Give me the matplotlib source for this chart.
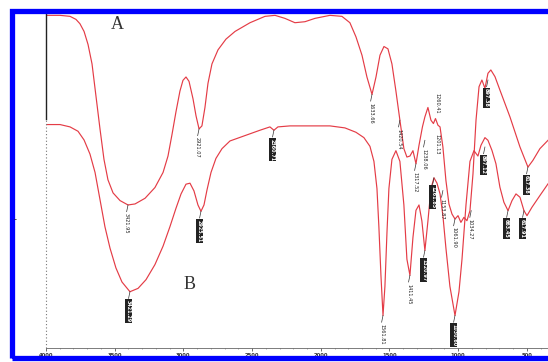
import numpy as np
import matplotlib.pyplot as plt
from matplotlib.patches import Rectangle

# FTIR spectra, wavenumber (cm-1) and transmittance (a.u.)
wn_a = [4000, 3898, 3825, 3782, 3753, 3723, 3694, 3665, 3636, 3607, 3578, 3549,
        3512, 3461, 3403, 3352, 3279, 3207, 3148, 3112, 3083, 3054, 3025, 3003,
        2981, 2959, 2930, 2908, 2886, 2865, 2843, 2821, 2792, 2748, 2690, 2624,
        2515, 2406, 2333, 2261, 2188, 2115, 2042, 1933, 1846, 1788, 1744, 1700,
        1664, 1627, 1598, 1569, 1540, 1511, 1482, 1453, 1424, 1395, 1373, 1351,
        1329, 1307, 1285, 1260, 1242, 1220, 1198, 1180, 1165, 1147, 1132, 1111,
        1089, 1067, 1045, 1023, 1001, 980, 958, 936, 914, 892, 870, 848, 827,
        805, 783, 762, 732, 696, 623, 550, 492, 456, 405, 346]
t_a = [99.3, 99.3, 99.0, 98.1, 96.8, 94.5, 90.6, 84.8, 75.1, 65.4, 56.3, 50.2,
       46.3, 44.0, 42.7, 43.0, 44.7, 47.9, 52.4, 57.3, 63.7, 70.5, 76.7, 79.9,
       80.9, 79.6, 74.4, 69.3, 65.4, 66.3, 71.8, 79.0, 84.8, 89.0, 92.2, 94.5,
       97.1, 99.0, 99.3, 98.4, 97.1, 97.4, 98.4, 99.3, 99.0, 97.1, 92.9, 87.4,
       80.9, 75.7, 80.9, 87.4, 90.0, 89.3, 84.8, 76.7, 68.0, 59.5, 57.0, 57.3,
       58.9, 55.0, 60.5, 66.0, 69.0, 71.8, 68.0, 67.0, 68.5, 66.5, 66.0, 60.0,
       50.0, 43.0, 40.0, 38.5, 39.5, 37.5, 39.0, 38.0, 41.0, 52.0, 68.0, 78.0, 80.0,
       77.5, 82.0, 83.0, 81.0, 77.0, 69.0, 60.0, 54.0, 56.0, 59.5, 62.0]

wn_b = [4000, 3898, 3825, 3767, 3723, 3680, 3643, 3607, 3571, 3534, 3491, 3447,
        3389, 3330, 3272, 3207, 3148, 3098, 3054, 3017, 2981, 2952, 2923, 2894,
        2872, 2850, 2828, 2799, 2763, 2719, 2661, 2552, 2443, 2370, 2341, 2312,
        2224, 1933, 1824, 1744, 1686, 1642, 1613, 1591, 1577, 1562, 1547, 1533,
        1518, 1504, 1482, 1453, 1424, 1395, 1373, 1351, 1329, 1307, 1285, 1264,
        1242, 1220, 1198, 1176, 1154, 1132, 1111, 1089, 1060, 1023, 994, 972,
        943, 914, 885, 856, 834, 805, 783, 754, 725, 696, 667, 637, 608, 579,
        550, 521, 499, 463, 405, 346]
t_b = [66.7, 66.7, 66.0, 64.7, 62.1, 57.9, 52.4, 44.3, 36.2, 29.8, 23.9, 19.7,
       16.8, 17.8, 20.4, 24.9, 30.4, 36.2, 41.7, 46.0, 48.9, 49.2, 46.9, 42.7,
       40.8, 42.7, 47.2, 52.4, 56.6, 59.5, 61.8, 63.4, 65.0, 66.0, 65.0, 66.0,
       66.3, 66.3, 65.7, 64.4, 62.8, 60.2, 55.7, 47.6, 36.2, 21.7, 9.7, 18.4,
       34.6, 47.6, 56.3, 58.9, 55.7, 42.7, 26.5, 21.7, 33.0, 41.1, 42.7, 37.9,
       29.1, 37.9, 47.6, 50.8, 49.2, 46.0, 39.5, 29.8, 18.4, 9.7, 16.8, 26.5,
       42.7, 55.7, 58.9, 57.3, 60.5, 62.8, 62.0, 59.0, 55.0, 48.0, 43.5, 41.0,
       44.0, 46.0, 45.0, 41.0, 39.5, 42.0, 45.5, 49.0]

# peak labels: (wavenumber, transmittance at the mark, text, dark box)
peaks_a = [(3403, 42.7, "3421.95", False), (2886, 65.4, "2921.07", False),
           (1627, 75.7, "1633.66", False), (1424, 68.0, "1420.54", False),
           (1307, 55.0, "1317.52", False), (1242, 62.0, "1238.06", False),
           (1111, 47.0, "1153.87", False), (1023, 38.5, "1061.90", False),
           (905, 41.0, "1034.27", False), (783, 80.0, "897.38", True),
           (492, 54.0, "617.38", True)]
peaks_b = [(3389, 16.8, "3421.29", True), (2872, 40.8, "2925.51", True),
           (2341, 65.0, "2360.71", True), (1547, 9.7, "1561.81", False),
           (1351, 21.7, "1411.45", False), (1242, 29.1, "1320.97", True),
           (1176, 50.8, "1261.85", True), (1023, 9.7, "1030.60", True),
           (805, 60.0, "897.12", True), (637, 41.0, "663.45", True),
           (521, 41.0, "617.91", True)]
# labels printed above the peak cluster of A
extra_a = [(1154, 76.0, "1260.41"), (1154, 64.0, "1201.13")]

xticks = [4000, 3500, 3000, 2500, 2000, 1500, 1000, 500]

fig = plt.figure(figsize=(5.48, 3.62), dpi=100)
ax = fig.add_axes([46 / 548, 14 / 362, 502 / 548, 335 / 362])

red = "#e43c46"
ax.plot(wn_a, t_a, color=red, lw=0.85)
ax.plot(wn_b, t_b, color=red, lw=0.85)

ax.set_xlim(4000, 346)
ax.set_ylim(0, 100)

for x, y, s, dark in peaks_a + peaks_b:
    ax.plot([x, x + 10], [y, y - 2.0], color="#333333", lw=0.5)
    if dark:
        ax.text(x + 10, y - 2.5, s, rotation=270, ha="center", va="top",
                fontsize=3.5, color="white", fontweight="bold",
                bbox=dict(boxstyle="square,pad=0.15", fc="#222222", ec="none"))
    else:
        ax.text(x + 10, y - 2.5, s, rotation=270, ha="center", va="top",
                fontsize=3.6, color="#222222")
for x, y, s in extra_a:
    ax.text(x, y, s, rotation=270, ha="center", va="top", fontsize=3.6,
            color="#222222")

ax.text(3483, 96.5, "A", fontsize=13, family="Liberation Serif", color="#333333",
        ha="center", va="center")
ax.text(2952, 19.0, "B", fontsize=13, family="Liberation Serif", color="#333333",
        ha="center", va="center")

# axes styling
for side in ["top", "right", "left"]:
    ax.spines[side].set_visible(False)
ax.spines["bottom"].set_color("#666666")
ax.spines["bottom"].set_linewidth(0.6)
ax.plot([0, 0], [0.685, 1.0], transform=ax.transAxes, color="#222222", lw=1.0,
        clip_on=False)
ax.plot([0, 0], [0, 0.685], transform=ax.transAxes, color="#777777", lw=0.8,
        ls=(0, (1, 2)), clip_on=False)
ax.set_yticks([])
ax.set_xticks(xticks)
ax.set_xticklabels([str(v) for v in xticks], fontsize=3.8, fontweight="bold")
ax.set_xticks(np.arange(4000, 340, -100), minor=True)
ax.tick_params(axis="x", which="major", length=2, width=0.5, pad=1.5, colors="#333333")
ax.tick_params(axis="x", which="minor", length=1, width=0.4, colors="#666666")

fig.text(15 / 548, 1 - 220 / 362, "-", fontsize=6, color="#222222", ha="center",
         va="center")

# blue frame around the picture
fig.patches.append(Rectangle((12 / 548, 4 / 362), 600 / 548, 347 / 362,
                             transform=fig.transFigure, fill=False,
                             ec="#0000ff", lw=3.8))

fig.savefig("out.png", dpi=100)
